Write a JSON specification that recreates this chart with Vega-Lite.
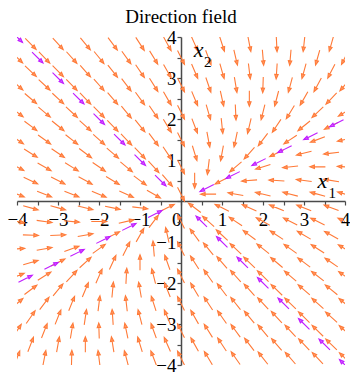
{
  "$schema": "https://vega.github.io/schema/vega-lite/v6.json",
  "width": 328,
  "height": 328,
  "autosize": {"type": "none"},
  "padding": {"left": 17, "top": 37, "right": 5, "bottom": 7},
  "title": {
    "text": "Direction field",
    "font": "Liberation Serif",
    "fontSize": 19,
    "fontWeight": "normal",
    "color": "#000000",
    "frame": "group",
    "anchor": "middle",
    "offset": 1
  },
  "config": {
    "view": {"stroke": null},
    "axis": {
      "title": null,
      "grid": false,
      "domainColor": "#4a4a4a",
      "domainWidth": 1.5,
      "tickColor": "#4a4a4a",
      "tickWidth": 1.2,
      "tickSize": 4,
      "format": "d",
      "labelFont": "Liberation Serif",
      "labelFontSize": 19,
      "labelColor": "#000000",
      "labelFlush": false,
      "labelOverlap": false,
      "labelBound": false
    }
  },
  "datasets": {
    "field": [
      {"x":-3.667,"y":3.833,"a":135.5},{"x":-3,"y":3.833,"a":137.7},{"x":-2.333,"y":3.833,"a":140.3},{"x":-1.667,"y":3.833,"a":143.3},{"x":-1,"y":3.833,"a":146.9},{"x":-0.333,"y":3.833,"a":151},{"x":0.333,"y":3.833,"a":156},{"x":1,"y":3.833,"a":162},{"x":1.667,"y":3.833,"a":169},{"x":2.333,"y":3.833,"a":177.1},{"x":3,"y":3.833,"a":186.2},{"x":3.667,"y":3.833,"a":195.9},
      {"x":-4,"y":3.5,"a":133.5},{"x":-3.333,"y":3.5,"a":135.6},{"x":-2.667,"y":3.5,"a":138},{"x":-2,"y":3.5,"a":140.9},{"x":-1.333,"y":3.5,"a":144.4},{"x":-0.667,"y":3.5,"a":148.5},{"x":0,"y":3.5,"a":153.4},{"x":0.667,"y":3.5,"a":159.4},{"x":1.333,"y":3.5,"a":166.7},{"x":2,"y":3.5,"a":175.2},{"x":2.667,"y":3.5,"a":185},{"x":3.333,"y":3.5,"a":195.7},{"x":4,"y":3.5,"a":206.6},
      {"x":-3.667,"y":3.167,"a":133.3},{"x":-3,"y":3.167,"a":135.6},{"x":-2.333,"y":3.167,"a":138.4},{"x":-1.667,"y":3.167,"a":141.7},{"x":-1,"y":3.167,"a":145.7},{"x":-0.333,"y":3.167,"a":150.6},{"x":0.333,"y":3.167,"a":156.6},{"x":1,"y":3.167,"a":164.1},{"x":1.667,"y":3.167,"a":173.1},{"x":2.333,"y":3.167,"a":183.7},{"x":3,"y":3.167,"a":195.4},{"x":3.667,"y":3.167,"a":207.4},
      {"x":-4,"y":2.833,"a":131},{"x":-3.333,"y":2.833,"a":133.1},{"x":-2.667,"y":2.833,"a":135.7},{"x":-2,"y":2.833,"a":138.8},{"x":-1.333,"y":2.833,"a":142.6},{"x":-0.667,"y":2.833,"a":147.4},{"x":0,"y":2.833,"a":153.4},{"x":0.667,"y":2.833,"a":161},{"x":1.333,"y":2.833,"a":170.5},{"x":2,"y":2.833,"a":182},{"x":2.667,"y":2.833,"a":195.1},{"x":3.333,"y":2.833,"a":208.4},{"x":4,"y":2.833,"a":220.8},
      {"x":-3.667,"y":2.5,"a":130.5},{"x":-3,"y":2.5,"a":132.9},{"x":-2.333,"y":2.5,"a":135.8},{"x":-1.667,"y":2.5,"a":139.4},{"x":-1,"y":2.5,"a":144},{"x":-0.333,"y":2.5,"a":149.9},{"x":0.333,"y":2.5,"a":157.5},{"x":1,"y":2.5,"a":167.5},{"x":1.667,"y":2.5,"a":180},{"x":2.333,"y":2.5,"a":194.6},{"x":3,"y":2.5,"a":209.7},{"x":3.667,"y":2.5,"a":223.4},
      {"x":-4,"y":2.167,"a":127.8},{"x":-3.333,"y":2.167,"a":129.9},{"x":-2.667,"y":2.167,"a":132.6},{"x":-2,"y":2.167,"a":135.9},{"x":-1.333,"y":2.167,"a":140.2},{"x":-0.667,"y":2.167,"a":145.8},{"x":0,"y":2.167,"a":153.4},{"x":0.667,"y":2.167,"a":163.7},{"x":1.333,"y":2.167,"a":177.4},{"x":2,"y":2.167,"a":194},{"x":2.667,"y":2.167,"a":211.4},{"x":3.333,"y":2.167,"a":226.7},{"x":4,"y":2.167,"a":238.7},
      {"x":-3.667,"y":1.833,"a":126.9},{"x":-3,"y":1.833,"a":129.2},{"x":-2.333,"y":1.833,"a":132.2},{"x":-1.667,"y":1.833,"a":136.1},{"x":-1,"y":1.833,"a":141.3},{"x":-0.333,"y":1.833,"a":148.7},{"x":0.333,"y":1.833,"a":159.1},{"x":1,"y":1.833,"a":174},{"x":1.667,"y":1.833,"a":193.2},{"x":2.333,"y":1.833,"a":213.7},{"x":3,"y":1.833,"a":230.9},{"x":3.667,"y":1.833,"a":243.4},
      {"x":-4,"y":1.5,"a":123.7},{"x":-3.333,"y":1.5,"a":125.7},{"x":-2.667,"y":1.5,"a":128.2},{"x":-2,"y":1.5,"a":131.6},{"x":-1.333,"y":1.5,"a":136.3},{"x":-0.667,"y":1.5,"a":143.1},{"x":0,"y":1.5,"a":153.4},{"x":0.667,"y":1.5,"a":169.4},{"x":1.333,"y":1.5,"a":192.1},{"x":2,"y":1.5,"a":216.9},{"x":2.667,"y":1.5,"a":236.3},{"x":3.333,"y":1.5,"a":249.1},{"x":4,"y":1.5,"a":257.5},
      {"x":-3.667,"y":1.167,"a":122},{"x":-3,"y":1.167,"a":124.1},{"x":-2.333,"y":1.167,"a":126.9},{"x":-1.667,"y":1.167,"a":130.8},{"x":-1,"y":1.167,"a":136.7},{"x":-0.333,"y":1.167,"a":146.3},{"x":0.333,"y":1.167,"a":162.9},{"x":1,"y":1.167,"a":190.3},{"x":1.667,"y":1.167,"a":221.6},{"x":2.333,"y":1.167,"a":243.4},{"x":3,"y":1.167,"a":256},{"x":3.667,"y":1.167,"a":263.4},
      {"x":-4,"y":0.833,"a":118.2},{"x":-3.333,"y":0.833,"a":119.7},{"x":-2.667,"y":0.833,"a":121.8},{"x":-2,"y":0.833,"a":124.8},{"x":-1.333,"y":0.833,"a":129.5},{"x":-0.667,"y":0.833,"a":137.5},{"x":0,"y":0.833,"a":153.4},{"x":0.667,"y":0.833,"a":187.1},{"x":1.333,"y":0.833,"a":229.4},{"x":2,"y":0.833,"a":252.9},{"x":2.667,"y":0.833,"a":264},{"x":3.333,"y":0.833,"a":270},{"x":4,"y":0.833,"a":273.7},
      {"x":-3.667,"y":0.5,"a":115.3},{"x":-3,"y":0.5,"a":116.6},{"x":-2.333,"y":0.5,"a":118.4},{"x":-1.667,"y":0.5,"a":121.4},{"x":-1,"y":0.5,"a":126.9},{"x":-0.333,"y":0.5,"a":139.4},{"x":0.333,"y":0.5,"a":180},{"x":1,"y":0.5,"a":243.4},{"x":1.667,"y":0.5,"a":265.2},{"x":2.333,"y":0.5,"a":273.2},{"x":3,"y":0.5,"a":277.1},{"x":3.667,"y":0.5,"a":279.5},
      {"x":-4,"y":0.167,"a":110.7},{"x":-3.333,"y":0.167,"a":111.2},{"x":-2.667,"y":0.167,"a":111.8},{"x":-2,"y":0.167,"a":112.8},{"x":-1.333,"y":0.167,"a":114.8},{"x":-0.667,"y":0.167,"a":119.7},{"x":0,"y":0.167,"a":153.4},{"x":0.667,"y":0.167,"a":270},{"x":1.333,"y":0.167,"a":280.3},{"x":2,"y":0.167,"a":283.2},{"x":2.667,"y":0.167,"a":284.6},{"x":3.333,"y":0.167,"a":285.4},{"x":4,"y":0.167,"a":286},
      {"x":-3.667,"y":-0.167,"a":105.7},{"x":-3,"y":-0.167,"a":105.1},{"x":-2.333,"y":-0.167,"a":104},{"x":-1.667,"y":-0.167,"a":102.1},{"x":-1,"y":-0.167,"a":97.1},{"x":-0.333,"y":-0.167,"a":63.4},{"x":0.333,"y":-0.167,"a":306.9},{"x":1,"y":-0.167,"a":296.6},{"x":1.667,"y":-0.167,"a":293.6},{"x":2.333,"y":-0.167,"a":292.2},{"x":3,"y":-0.167,"a":291.4},{"x":3.667,"y":-0.167,"a":290.9},
      {"x":-4,"y":-0.5,"a":100.3},{"x":-3.333,"y":-0.5,"a":98.4},{"x":-2.667,"y":-0.5,"a":95.4},{"x":-2,"y":-0.5,"a":90},{"x":-1.333,"y":-0.5,"a":77.5},{"x":-0.667,"y":-0.5,"a":36.9},{"x":0,"y":-0.5,"a":333.4},{"x":0.667,"y":-0.5,"a":311.6},{"x":1.333,"y":-0.5,"a":303.7},{"x":2,"y":-0.5,"a":299.7},{"x":2.667,"y":-0.5,"a":297.4},{"x":3.333,"y":-0.5,"a":295.9},{"x":4,"y":-0.5,"a":294.8},
      {"x":-3.667,"y":-0.833,"a":92},{"x":-3,"y":-0.833,"a":87.4},{"x":-2.333,"y":-0.833,"a":79.4},{"x":-1.667,"y":-0.833,"a":63.4},{"x":-1,"y":-0.833,"a":29.7},{"x":-0.333,"y":-0.833,"a":347.5},{"x":0.333,"y":-0.833,"a":324},{"x":1,"y":-0.833,"a":312.9},{"x":1.667,"y":-0.833,"a":306.9},{"x":2.333,"y":-0.833,"a":303.2},{"x":3,"y":-0.833,"a":300.7},{"x":3.667,"y":-0.833,"a":298.9},
      {"x":-4,"y":-1.167,"a":86.1},{"x":-3.333,"y":-1.167,"a":80.1},{"x":-2.667,"y":-1.167,"a":70.6},{"x":-2,"y":-1.167,"a":54},{"x":-1.333,"y":-1.167,"a":26.6},{"x":-0.667,"y":-1.167,"a":355.2},{"x":0,"y":-1.167,"a":333.4},{"x":0.667,"y":-1.167,"a":320.9},{"x":1.333,"y":-1.167,"a":313.5},{"x":2,"y":-1.167,"a":308.7},{"x":2.667,"y":-1.167,"a":305.4},{"x":3.333,"y":-1.167,"a":303},{"x":4,"y":-1.167,"a":301.2},
      {"x":-3.667,"y":-1.5,"a":73.7},{"x":-3,"y":-1.5,"a":63.4},{"x":-2.333,"y":-1.5,"a":47.5},{"x":-1.667,"y":-1.5,"a":24.8},{"x":-1,"y":-1.5,"a":0},{"x":-0.333,"y":-1.5,"a":340.6},{"x":0.333,"y":-1.5,"a":327.7},{"x":1,"y":-1.5,"a":319.4},{"x":1.667,"y":-1.5,"a":313.8},{"x":2.333,"y":-1.5,"a":309.8},{"x":3,"y":-1.5,"a":306.9},{"x":3.667,"y":-1.5,"a":304.6},
      {"x":-4,"y":-1.833,"a":68.2},{"x":-3.333,"y":-1.833,"a":57.7},{"x":-2.667,"y":-1.833,"a":42.9},{"x":-2,"y":-1.833,"a":23.6},{"x":-1.333,"y":-1.833,"a":3.2},{"x":-0.667,"y":-1.833,"a":346},{"x":0,"y":-1.833,"a":333.4},{"x":0.667,"y":-1.833,"a":324.7},{"x":1.333,"y":-1.833,"a":318.5},{"x":2,"y":-1.833,"a":314},{"x":2.667,"y":-1.833,"a":310.6},{"x":3.333,"y":-1.833,"a":308},{"x":4,"y":-1.833,"a":305.9},
      {"x":-3.667,"y":-2.167,"a":53.1},{"x":-3,"y":-2.167,"a":39.5},{"x":-2.333,"y":-2.167,"a":22.8},{"x":-1.667,"y":-2.167,"a":5.4},{"x":-1,"y":-2.167,"a":350.1},{"x":-0.333,"y":-2.167,"a":338.2},{"x":0.333,"y":-2.167,"a":329.3},{"x":1,"y":-2.167,"a":322.8},{"x":1.667,"y":-2.167,"a":317.9},{"x":2.333,"y":-2.167,"a":314.1},{"x":3,"y":-2.167,"a":311.2},{"x":3.667,"y":-2.167,"a":308.8},
      {"x":-4,"y":-2.5,"a":49.4},{"x":-3.333,"y":-2.5,"a":36.9},{"x":-2.667,"y":-2.5,"a":22.2},{"x":-2,"y":-2.5,"a":7.1},{"x":-1.333,"y":-2.5,"a":353.4},{"x":-0.667,"y":-2.5,"a":342.2},{"x":0,"y":-2.5,"a":333.4},{"x":0.667,"y":-2.5,"a":326.7},{"x":1.333,"y":-2.5,"a":321.5},{"x":2,"y":-2.5,"a":317.5},{"x":2.667,"y":-2.5,"a":314.3},{"x":3.333,"y":-2.5,"a":311.6},{"x":4,"y":-2.5,"a":309.5},
      {"x":-3.667,"y":-2.833,"a":34.8},{"x":-3,"y":-2.833,"a":21.8},{"x":-2.333,"y":-2.833,"a":8.4},{"x":-1.667,"y":-2.833,"a":356.1},{"x":-1,"y":-2.833,"a":345.5},{"x":-0.333,"y":-2.833,"a":337},{"x":0.333,"y":-2.833,"a":330.3},{"x":1,"y":-2.833,"a":324.9},{"x":1.667,"y":-2.833,"a":320.6},{"x":2.333,"y":-2.833,"a":317.2},{"x":3,"y":-2.833,"a":314.3},{"x":3.667,"y":-2.833,"a":312},
      {"x":-4,"y":-3.167,"a":33.2},{"x":-3.333,"y":-3.167,"a":21.4},{"x":-2.667,"y":-3.167,"a":9.5},{"x":-2,"y":-3.167,"a":358.2},{"x":-1.333,"y":-3.167,"a":348.4},{"x":-0.667,"y":-3.167,"a":340.1},{"x":0,"y":-3.167,"a":333.4},{"x":0.667,"y":-3.167,"a":328},{"x":1.333,"y":-3.167,"a":323.6},{"x":2,"y":-3.167,"a":319.9},{"x":2.667,"y":-3.167,"a":316.9},{"x":3.333,"y":-3.167,"a":314.4},{"x":4,"y":-3.167,"a":312.3},
      {"x":-3.667,"y":-3.5,"a":21.2},{"x":-3,"y":-3.5,"a":10.3},{"x":-2.333,"y":-3.5,"a":0},{"x":-1.667,"y":-3.5,"a":350.8},{"x":-1,"y":-3.5,"a":342.9},{"x":-0.333,"y":-3.5,"a":336.3},{"x":0.333,"y":-3.5,"a":330.8},{"x":1,"y":-3.5,"a":326.3},{"x":1.667,"y":-3.5,"a":322.5},{"x":2.333,"y":-3.5,"a":319.4},{"x":3,"y":-3.5,"a":316.7},{"x":3.667,"y":-3.5,"a":314.5},
      {"x":-4,"y":-3.833,"a":20.9},{"x":-3.333,"y":-3.833,"a":11},{"x":-2.667,"y":-3.833,"a":1.5},{"x":-2,"y":-3.833,"a":352.9},{"x":-1.333,"y":-3.833,"a":345.3},{"x":-0.667,"y":-3.833,"a":338.9},{"x":0,"y":-3.833,"a":333.4},{"x":0.667,"y":-3.833,"a":328.9},{"x":1.333,"y":-3.833,"a":325},{"x":2,"y":-3.833,"a":321.7},{"x":2.667,"y":-3.833,"a":319},{"x":3.333,"y":-3.833,"a":316.6},{"x":4,"y":-3.833,"a":314.5}
    ],
    "eigen": [
      {"x":-0.5,"y":0.5,"a":135},{"x":-1,"y":1,"a":135},{"x":-1.5,"y":1.5,"a":135},{"x":-2,"y":2,"a":135},{"x":-2.5,"y":2.5,"a":135},{"x":-3,"y":3,"a":135},{"x":-3.5,"y":3.5,"a":135},{"x":-4,"y":4,"a":135},
      {"x":0.5,"y":-0.5,"a":315},{"x":1,"y":-1,"a":315},{"x":1.5,"y":-1.5,"a":315},{"x":2,"y":-2,"a":315},{"x":2.5,"y":-2.5,"a":315},{"x":3,"y":-3,"a":315},{"x":3.5,"y":-3.5,"a":315},{"x":4,"y":-4,"a":315},
      {"x":0.632,"y":0.316,"a":243.4},{"x":1.265,"y":0.632,"a":243.4},{"x":1.897,"y":0.949,"a":243.4},{"x":2.53,"y":1.265,"a":243.4},{"x":3.162,"y":1.581,"a":243.4},{"x":3.795,"y":1.897,"a":243.4},
      {"x":-0.632,"y":-0.316,"a":63.4},{"x":-1.265,"y":-0.632,"a":63.4},{"x":-1.897,"y":-0.949,"a":63.4},{"x":-2.53,"y":-1.265,"a":63.4},{"x":-3.162,"y":-1.581,"a":63.4},{"x":-3.795,"y":-1.897,"a":63.4}
    ],
    "names": [
      {"x":3.33,"y":0.32,"t":"x"},
      {"x":0.31,"y":3.52,"t":"x"}
    ],
    "subscripts": [
      {"x":3.6,"y":0.08,"t":"1"},
      {"x":0.56,"y":3.28,"t":"2"}
    ]
  },
  "encoding": {
    "x": {
      "field": "x",
      "type": "quantitative",
      "scale": {"domain": [-4, 4], "nice": false, "zero": false},
      "axis": {
        "orient": "bottom",
        "offset": -164,
        "values": [-4,-3.5,-3,-2.5,-2,-1.5,-1,-0.5,0,0.5,1,1.5,2,2.5,3,3.5,4],
        "labelExpr": "datum.value % 1 === 0 ? datum.label : ''",
        "labelPadding": 5,
        "labelAlign": {"condition": {"test": "datum.value === 0", "value": "right"}, "value": "center"}
      }
    },
    "y": {
      "field": "y",
      "type": "quantitative",
      "scale": {"domain": [-4, 4], "nice": false, "zero": false},
      "axis": {
        "orient": "left",
        "offset": -164,
        "values": [-4,-3.5,-3,-2.5,-2,-1.5,-1,-0.5,0,0.5,1,1.5,2,2.5,3,3.5,4],
        "labelExpr": "datum.value % 1 === 0 && datum.value !== 0 ? datum.label : ''",
        "labelPadding": 1
      }
    }
  },
  "layer": [
    {
      "data": {"name": "field"},
      "mark": {
        "type": "point",
        "shape": "M0,1L0,-0.5M-0.22,-0.42L0,-1L0.22,-0.42Z",
        "size": 240,
        "filled": true,
        "fill": "#ff9a66",
        "stroke": "#ff7a38",
        "strokeWidth": 1.1,
        "opacity": 1,
        "clip": true
      },
      "encoding": {
        "angle": {"field": "a", "type": "quantitative", "scale": null}
      }
    },
    {
      "data": {"name": "eigen"},
      "mark": {
        "type": "point",
        "shape": "M0,1L0,-0.5M-0.22,-0.42L0,-1L0.22,-0.42Z",
        "size": 240,
        "filled": true,
        "fill": "#d45cff",
        "stroke": "#c01cff",
        "strokeWidth": 1.1,
        "opacity": 1,
        "clip": true
      },
      "encoding": {
        "angle": {"field": "a", "type": "quantitative", "scale": null}
      }
    },
    {
      "data": {"name": "names"},
      "mark": {
        "type": "text",
        "font": "Liberation Serif",
        "fontStyle": "italic",
        "fontSize": 22,
        "align": "left",
        "baseline": "alphabetic",
        "color": "#000000"
      },
      "encoding": {"text": {"field": "t"}}
    },
    {
      "data": {"name": "subscripts"},
      "mark": {
        "type": "text",
        "font": "Liberation Serif",
        "fontSize": 15,
        "align": "left",
        "baseline": "alphabetic",
        "color": "#000000"
      },
      "encoding": {"text": {"field": "t"}}
    }
  ]
}
